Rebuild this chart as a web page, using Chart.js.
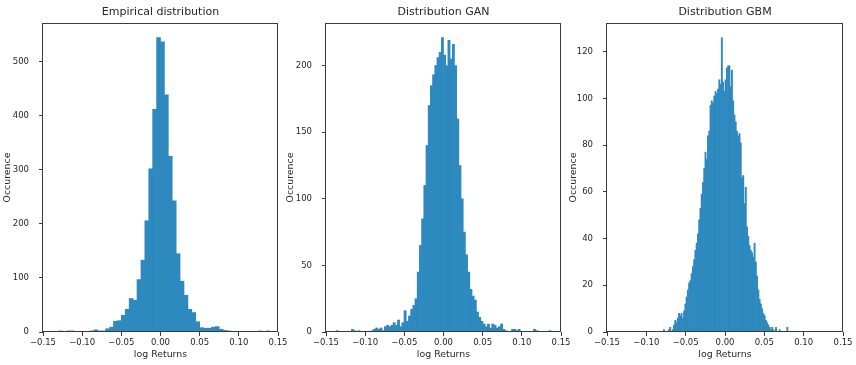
<!DOCTYPE html>
<html><head><meta charset="utf-8">
<script src="https://cdn.jsdelivr.net/npm/chart.js@4.4.1/dist/chart.umd.min.js"></script>
<style>
html,body{margin:0;padding:0;background:#fff;width:856px;height:365px;overflow:hidden}
canvas{position:absolute;top:0}
</style></head><body>
<canvas id="c1" width="290" height="365" style="left:0px"></canvas>
<canvas id="c2" width="290" height="365" style="left:283px"></canvas>
<canvas id="c3" width="290" height="365" style="left:566px"></canvas>
<script>
// ---------- data ----------
const titles = ["Empirical distribution", "Distribution GAN", "Distribution GBM"];
const xAxisLabel = "log Returns";
const yAxisLabel = "Occurence";
const xTickValues = [-0.15, -0.10, -0.05, 0.00, 0.05, 0.10, 0.15];
const xTickLabels = ["\u22120.15", "\u22120.10", "\u22120.05", "0.00", "0.05", "0.10", "0.15"];
const empYTicks = [0, 100, 200, 300, 400, 500];
const ganYTicks = [0, 50, 100, 150, 200];
const gbmYTicks = [0, 20, 40, 60, 80, 100, 120];

// histogram bins: first left edge and bin width
const empBinStart = -0.135, empBinWidth = 0.005;
const empCounts = [
  1, 2, 0, 2, 2, 1, 1, 1, 1, 2, 4, 2, 2, 6, 9, 20, 21, 31, 42, 62, 59, 97, 133, 206, 302, 412, 545,
  537, 439, 325, 243, 145, 94, 68, 42, 36, 19, 8, 7, 7, 9, 10, 5, 3, 2, 1, 1, 1, 1, 0, 0, 0, 2, 0, 2
];

const ganBinStart = -0.14, ganBinWidth = 0.0028;
const ganCounts = [
  0, 1, 0, 0, 0, 0, 0, 0, 2, 1, 0, 1, 0, 0, 0, 0, 0, 1, 2, 3,
  2, 3, 1, 4, 5, 4, 5, 7, 5, 9, 4, 7, 16, 8, 12, 17, 20, 25, 45, 65,
  85, 110, 140, 170, 185, 193, 200, 206, 210, 221, 208, 200, 219, 205, 216, 200, 160, 125, 100, 75,
  58, 45, 32, 27, 24, 15, 11, 8, 6, 4, 6, 3, 6, 5, 3, 4, 6, 2, 1, 0,
  0, 2, 2, 1, 2, 0, 0, 0, 0, 0, 0, 2, 1, 0, 0, 0, 0, 0, 1, 0
];

const gbmBinStart = -0.08, gbmBinWidth = 0.0016;
const gbmCounts = [
  0, 1, 0, 0, 0, 1, 2, 0, 1, 3, 5, 4, 6, 8, 7, 8, 6, 9, 12, 15,
  18, 21, 22, 25, 28, 31, 35, 38, 42, 48, 53, 59, 64, 70, 77, 74, 84, 86, 97, 99,
  98, 101, 103, 102, 104, 108, 106, 126, 107, 103, 108, 113, 114, 114, 105, 112, 99, 93, 90, 86,
  84, 85, 81, 66, 67, 55, 62, 45, 41, 37, 35, 34, 32, 38, 30, 24, 18, 14, 12, 10,
  8, 7, 5, 4, 3, 2, 1, 2, 1, 0, 2, 0, 0, 1, 0, 0, 0, 0, 0, 2
];

// ---------- drawing ----------
const FONT = "'DejaVu Sans', sans-serif";
const TEXT = '#262626';
const BAR = '#2e89bf';
const EDGE = '#3a3a3a';

function toPoints(start, width, counts) {
  return counts.map((c, i) => ({ x: start + width * (i + 0.5), y: c }));
}

const framePlugin = {
  id: 'frameTitle',
  afterDraw(chart) {
    const { ctx, chartArea: a } = chart;
    const l = Math.round(a.left), r = Math.round(a.right), t = Math.round(a.top), b = Math.round(a.bottom);
    ctx.save();
    ctx.setLineDash([]);
    ctx.globalAlpha = 1;
    ctx.fillStyle = EDGE;
    ctx.fillRect(l - 1, t, r - l + 1, 1);   // top
    ctx.fillRect(r - 1, t, 1, b - t);       // right
    ctx.fillRect(l - 1, t, 1, b - t);       // left
    ctx.fillRect(l - 1, b - 1, r - l + 1, 1); // bottom
    ctx.fillStyle = TEXT;
    ctx.font = "11px " + FONT;
    ctx.textAlign = 'center';
    ctx.textBaseline = 'middle';
    ctx.fillText(chart.options.plugins.frameTitle.text, (a.left + a.right) / 2, 12);
    ctx.restore();
  }
};

function makeChart(id, title, points, yMax, yTicks, yWidth, padRight) {
  new Chart(document.getElementById(id), {
    type: 'bar',
    data: { datasets: [{ data: points, backgroundColor: BAR, borderWidth: 0,
      barPercentage: 1.0, categoryPercentage: 1.0 }] },
    options: {
      responsive: false, animation: false, devicePixelRatio: 1,
      layout: { padding: { top: 23, right: padRight, bottom: 0, left: 0 } },
      plugins: { legend: { display: false }, tooltip: { enabled: false },
                 frameTitle: { text: title } },
      scales: {
        x: {
          type: 'linear', min: -0.15, max: 0.15, offset: false,
          grid: { drawOnChartArea: false, drawTicks: true, tickLength: 4, color: EDGE, offset: false },
          border: { display: false },
          afterBuildTicks: s => { s.ticks = xTickValues.map(v => ({ value: v })); },
          afterFit: s => { s.height = 33; s.paddingLeft = 0; s.paddingRight = 0; },
          ticks: { font: { family: FONT, size: 8.5 }, color: TEXT, padding: 2, maxRotation: 0, autoSkip: false,
                   callback: (v, i) => xTickLabels[i] },
          title: { display: true, text: xAxisLabel, color: TEXT, font: { family: FONT, size: 9.4 },
                   padding: { top: 0, bottom: 4.4 } }
        },
        y: {
          type: 'linear', min: 0, max: yMax,
          grid: { drawOnChartArea: false, drawTicks: true, tickLength: 4, color: EDGE },
          border: { display: false },
          afterBuildTicks: s => { s.ticks = yTicks.map(v => ({ value: v })); },
          afterFit: s => { s.width = yWidth; s.paddingTop = 0; s.paddingBottom = 0; },
          ticks: { font: { family: FONT, size: 8.5 }, color: TEXT, padding: 10, autoSkip: false,
                   callback: v => String(v) },
          title: { display: true, text: yAxisLabel, color: TEXT, font: { family: FONT, size: 9.4 },
                   padding: { top: 2.4, bottom: 0 } }
        }
      }
    },
    plugins: [framePlugin]
  });
}

makeChart('c1', titles[0], toPoints(empBinStart, empBinWidth, empCounts), 572, empYTicks, 43, 12);
makeChart('c2', titles[1], toPoints(ganBinStart, ganBinWidth, ganCounts), 232, ganYTicks, 43, 12);
makeChart('c3', titles[2], toPoints(gbmBinStart, gbmBinWidth, gbmCounts), 132.3, gbmYTicks, 41, 13);
</script>
</body></html>
